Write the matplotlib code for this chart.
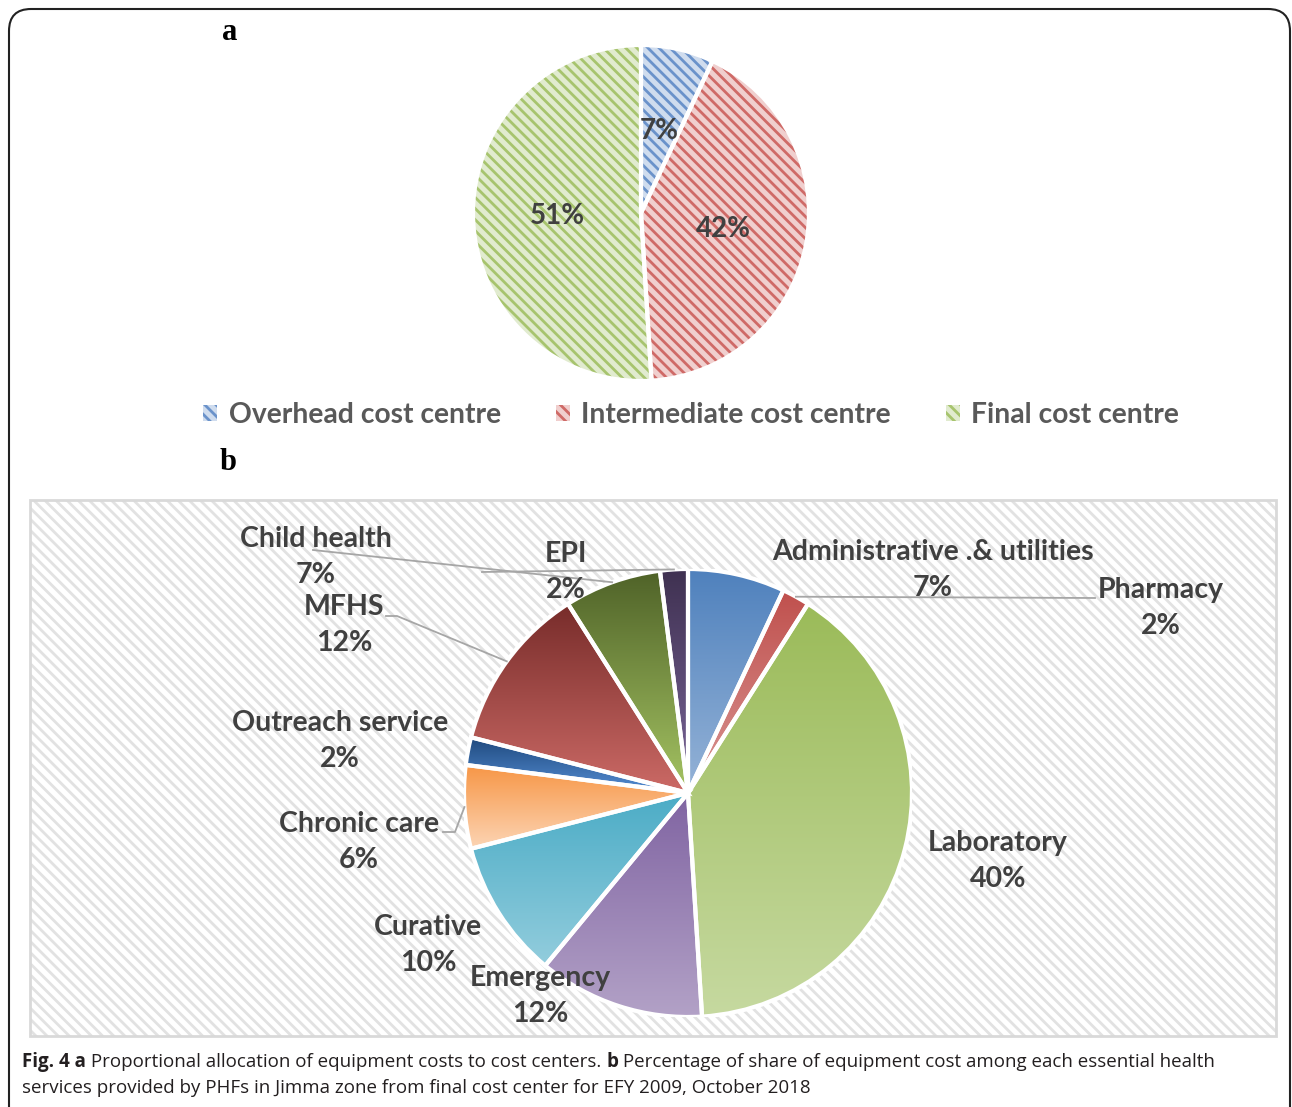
import numpy as np
import matplotlib
import matplotlib.pyplot as plt
import matplotlib.patches as mpatches
from matplotlib.colors import to_rgb

plt.rcParams['hatch.linewidth'] = 2.0

# panel a data
names_a = ['Overhead cost centre', 'Intermediate cost centre', 'Final cost centre']
values_a = [7, 42, 51]

# panel b data
names_b = ['Administrative .& utilities', 'Pharmacy', 'Laboratory', 'Emergency',
           'Curative', 'Chronic care', 'Outreach service', 'MFHS', 'Child health', 'EPI']
values_b = [7, 2, 40, 12, 10, 6, 2, 12, 7, 2]

# styles
hatch_a = ['#6A92CA', '#CF6A67', '#A7C46E']
tint_a = ['#CFDCEE', '#F0CFCE', '#E1EBCF']
top_b = ['#4F81BD', '#C0504D', '#9BBB59', '#8064A2', '#4BACC6',
         '#F79646', '#1F497D', '#772C2A', '#4F6228', '#3F3151']
bot_b = ['#95B3D7', '#D99694', '#C6D9A0', '#B3A2C7', '#93CDDD',
         '#FCD5B5', '#558ED5', '#CC6A66', '#A5C463', '#7B669A']

# label centres (pixels) and leader start points
lab_px = {'Administrative .& utilities': (933, 570), 'Pharmacy': (1161, 608),
          'Laboratory': (998, 861), 'Emergency': (540, 996), 'Curative': (428, 945),
          'Chronic care': (359, 842), 'Outreach service': (340, 741), 'MFHS': (344, 625),
          'Child health': (316, 557), 'EPI': (566, 572)}
leader_px = {'Pharmacy': [(1095, 598)], 'Chronic care': [(443, 832), (455, 832)],
             'MFHS': [(386, 616), (397, 616)], 'Child health': [(313, 550)],
             'EPI': [(482, 572)]}

LAB = '#404040'
FONT = 'Lato'
W, H = 1292, 1107
fig = plt.figure(figsize=(W / 100, H / 100), dpi=100)

bg = fig.add_axes([0, 0, 1, 1])
bg.set_xlim(0, W)
bg.set_ylim(H, 0)
bg.axis('off')

# outer frame
bg.add_patch(mpatches.FancyBboxPatch((9, 9), 1281, 1150, boxstyle='round,pad=0,rounding_size=22',
                                     fc='white', ec='#222222', lw=1.5))
# panel b background
bg.add_patch(mpatches.Rectangle((30, 500), 1246, 536, fc='white', ec='#E2E2E2',
                                hatch='\\\\\\', lw=0, zorder=2))
bg.add_patch(mpatches.Rectangle((30, 500), 1246, 536, fc='none', ec='#D9D9D9', lw=2, zorder=2))

bg.text(230, 32, 'a', family='Liberation Serif', fontweight='bold', fontsize=22,
        ha='center', va='center')
bg.text(228, 463, 'b', family='Liberation Serif', fontweight='bold', fontsize=22,
        ha='center', va='center')

# ---- panel a
cxa, cya, ra = 641, 213, 168
axa = fig.add_axes([(cxa - ra) / W, (H - cya - ra) / H, 2 * ra / W, 2 * ra / H])
wa, _, auto = axa.pie(values_a, colors=tint_a, startangle=90, counterclock=False,
                      autopct='%1.0f%%', pctdistance=0.5,
                      wedgeprops=dict(edgecolor='white', linewidth=0),
                      textprops=dict(color=LAB, fontsize=20, fontweight='bold', family=FONT))
for w, c in zip(wa, hatch_a):
    axa.add_patch(mpatches.Wedge(w.center, w.r, w.theta1, w.theta2, fc='none', ec=c,
                                 hatch='\\\\\\', lw=0, zorder=1.5))
    axa.add_patch(mpatches.Wedge(w.center, w.r, w.theta1, w.theta2, fc='none', ec='white',
                                 lw=3, zorder=1.8))
for t in auto:
    t.set_zorder(3)
axa.set_xlim(-1, 1)
axa.set_ylim(-1, 1)
axa.axis('off')

handles = [mpatches.Patch(fc=t, ec=c, hatch='\\\\\\', lw=0) for t, c in zip(tint_a, hatch_a)]
fig.legend(handles, names_a, loc='center', bbox_to_anchor=(691 / W, 1 - 415 / H), ncol=3,
           frameon=False, handlelength=0.5, handleheight=0.5, handletextpad=0.4,
           columnspacing=1.95, prop=dict(family=FONT, weight='bold', size=20.3),
           labelcolor='#595959')

# ---- panel b
cxb, cyb, rb = 688, 793, 224
axb = fig.add_axes([(cxb - rb) / W, (H - cyb - rb) / H, 2 * rb / W, 2 * rb / H])
axb.patch.set_alpha(0)
wb, _ = axb.pie(values_b, colors=top_b, startangle=90, counterclock=False,
                wedgeprops=dict(edgecolor='white', linewidth=0))
for w, c1, c2 in zip(wb, top_b, bot_b):
    v = w.get_path().vertices
    x0, x1 = v[:, 0].min(), v[:, 0].max()
    y0, y1 = v[:, 1].min(), v[:, 1].max()
    g = np.linspace(0, 1, 256)[:, None, None]
    img = (1 - g) * np.array(to_rgb(c1)) + g * np.array(to_rgb(c2))
    im = axb.imshow(img, extent=(x0, x1, y0, y1), origin='upper', aspect='auto',
                    interpolation='bilinear', zorder=1.2)
    im.set_clip_path(w)
    axb.add_patch(mpatches.Wedge(w.center, w.r, w.theta1, w.theta2, fc='none', ec='white',
                                 lw=3, zorder=1.8))


def to_b(px, py):
    return ((px - cxb) / rb, (cyb - py) / rb)


for w, name, val in zip(wb, names_b, values_b):
    lx, ly = to_b(*lab_px[name])
    axb.text(lx, ly, f'{name}\n{val}%', ha='center', va='center', color=LAB,
             fontsize=20.5, fontweight='bold', family=FONT, linespacing=1.5,
             clip_on=False, zorder=5)
    if name in leader_px:
        ang = np.radians((w.theta1 + w.theta2) / 2)
        pts = [to_b(*p) for p in leader_px[name]] + [(np.cos(ang), np.sin(ang))]
        pts = np.array(pts)
        axb.plot(pts[:, 0], pts[:, 1], color='#A6A6A6', lw=1.3, clip_on=False, zorder=4)

axb.set_xlim(-1, 1)
axb.set_ylim(-1, 1)
axb.axis('off')

# ---- caption
cap_font = ['Liberation Sans Narrow', 'DejaVu Sans Condensed', 'Open Sans']
fig.canvas.draw()
rend = fig.canvas.get_renderer()


def runs(x, y, parts):
    for s, bold in parts:
        t = bg.text(x, y, s, family=cap_font, fontsize=13.5, color='#231F20',
                    fontweight='bold' if bold else 'normal', ha='left', va='center')
        x += t.get_window_extent(rend).width


runs(22, 1062, [('Fig. 4 a', True), (' Proportional allocation of equipment costs to cost centers. ', False),
                ('b', True), (' Percentage of share of equipment cost among each essential health', False)])
runs(22, 1088, [('services provided by PHFs in Jimma zone from final cost center for EFY 2009, October 2018', False)])

fig.savefig('out.png', dpi=100)
